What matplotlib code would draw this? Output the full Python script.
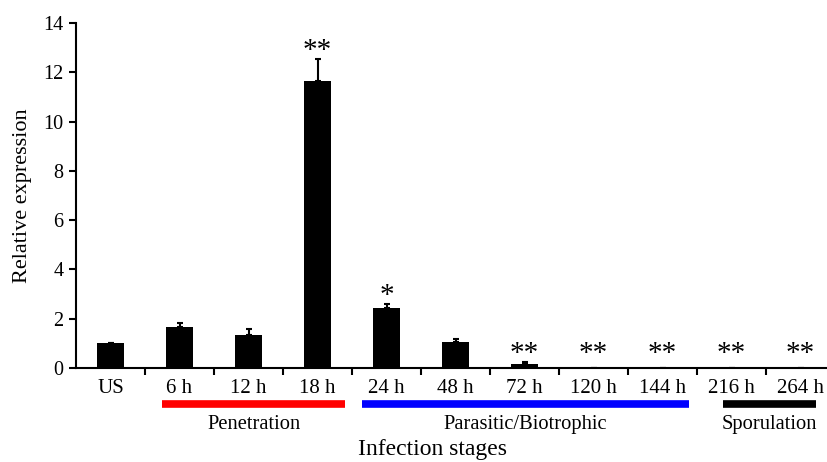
import numpy as np
import matplotlib.pyplot as plt

stages = ['US', '6 h', '12 h', '18 h', '24 h', '48 h', '72 h', '120 h', '144 h', '216 h', '264 h']
expression = [1.0, 1.65, 1.32, 11.65, 2.45, 1.04, 0.18, 0.0, 0.0, 0.0, 0.0]
errors = [0.03, 0.18, 0.25, 0.9, 0.15, 0.15, 0.08, 0.0, 0.0, 0.0, 0.0]
marks = ['', '', '', '**', '*', '', '**', '**', '**', '**', '**']

phases = ['Penetration', 'Parasitic/Biotrophic', 'Sporulation']
phase_spans = [(0.75, 3.4), (3.64, 8.38), (8.88, 10.22)]
phase_colors = ['#ff0000', '#0000ff', '#000000']

plt.rcParams['font.family'] = ['Liberation Serif', 'DejaVu Serif']

fig = plt.figure(figsize=(8.27, 4.62), dpi=100)
ax = fig.add_axes([76 / 827, 1 - 368 / 462, 759 / 827, 345 / 462])

x = np.arange(len(stages))
ax.bar(x, expression, width=0.4, color='black')
ax.errorbar(x, expression, yerr=[np.zeros(len(x)), errors], fmt='none',
            ecolor='black', elinewidth=1.5, capsize=2.5, capthick=1.5)

for xi, v, e, m in zip(x, expression, errors, marks):
    if m:
        y = max(v + e - 0.22, 0.05)
        ax.text(xi, y, m, ha='center', va='bottom', fontsize=21)

ax.set_xlim(-0.5, len(stages) - 0.5)
ax.set_ylim(0, 14)
ax.set_yticks(range(0, 15, 2))
ax.set_xticks(x)
ax.set_xticklabels(stages)
ax.set_xticks(np.arange(0.5, len(stages) - 0.5), minor=True)
ax.tick_params(axis='x', which='major', length=0, pad=8, labelsize=15)
ax.tick_params(axis='x', which='minor', length=5, width=1.5, direction='out')
ax.tick_params(axis='y', length=5, width=1.5, direction='out', labelsize=14.5, pad=4)
for s in ['top', 'right']:
    ax.spines[s].set_visible(False)
for s in ['left', 'bottom']:
    ax.spines[s].set_linewidth(1.5)

ax.set_ylabel('Relative expression', fontsize=16, labelpad=8)

for name, (a, b), c in zip(phases, phase_spans, phase_colors):
    ax.plot([a, b], [-1.46, -1.46], color=c, lw=5.5, clip_on=False,
            solid_capstyle='butt')
    ax.text((a + b) / 2, -2.3, name, ha='center', va='center', fontsize=14.8)

fig.text(432 / 827, 0.004, 'Infection stages', ha='center', va='bottom', fontsize=17)

fig.savefig('out.png', dpi=100)
